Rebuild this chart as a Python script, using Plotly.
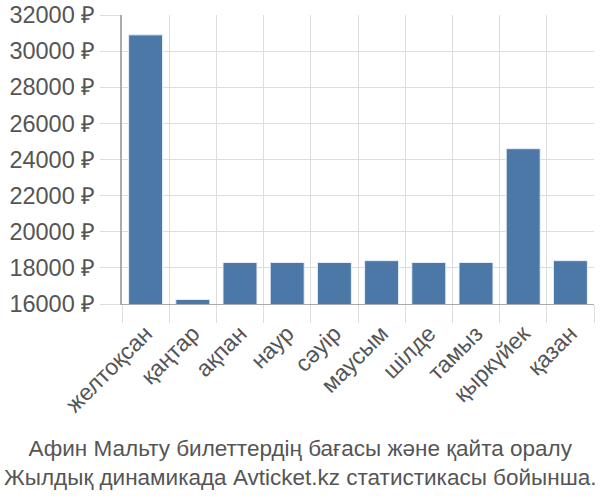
import plotly.graph_objects as go

months = ["желтоқсан", "қаңтар", "ақпан", "наур", "сәуір", "маусым", "шілде", "тамыз", "қыркүйек", "қазан"]
prices = [30900, 16250, 18300, 18300, 18300, 18400, 18300, 18300, 24600, 18400]
y_ticks = [16000, 18000, 20000, 22000, 24000, 26000, 28000, 30000, 32000]
y_tick_labels = [f"{v} ₽" for v in y_ticks]
title_lines = ["Афин Мальту билеттердің бағасы және қайта оралу",
               "Жылдық динамикада Avticket.kz статистикасы бойынша."]

fig = go.Figure(go.Bar(
    x=months, y=prices,
    marker=dict(color="#4c78a8", line=dict(color="#e8eef6", width=1)),
))

font = "Liberation Sans, Arial, sans-serif"
fig.update_layout(
    width=600, height=500,
    margin=dict(l=122, r=6, t=15, b=196),
    paper_bgcolor="white", plot_bgcolor="white",
    bargap=0.28,
    showlegend=False,
    font=dict(family=font, color="#555555"),
)
fig.update_xaxes(
    type="category", tickson="boundaries", automargin=False,
    showgrid=True, gridcolor="#dddddd", gridwidth=1,
    ticks="outside", ticklen=18, tickcolor="#dddddd",
    showline=True, linecolor="#aaaaaa", linewidth=1,
    ticklabelstandoff=6,
    tickangle=-45, tickfont=dict(size=23, family=font, color="#555555"),
)
fig.update_yaxes(
    range=[16000, 32000], tickvals=y_ticks, ticktext=y_tick_labels,
    automargin=False,
    showgrid=True, gridcolor="#dddddd", gridwidth=1,
    ticks="outside", ticklen=20, tickcolor="#dddddd",
    showline=True, linecolor="#aaaaaa", linewidth=2,
    zeroline=False,
    tickfont=dict(size=23.5, family=font, color="#555555"),
)
fig.add_annotation(
    text="<br>".join(title_lines), xref="paper", yref="paper",
    x=(300 - 122) / 472, xanchor="center",
    y=-(463 - 304) / 289, yanchor="middle", showarrow=False,
    font=dict(size=22.5, family=font, color="#555555"),
)
fig.write_html("out.html")
